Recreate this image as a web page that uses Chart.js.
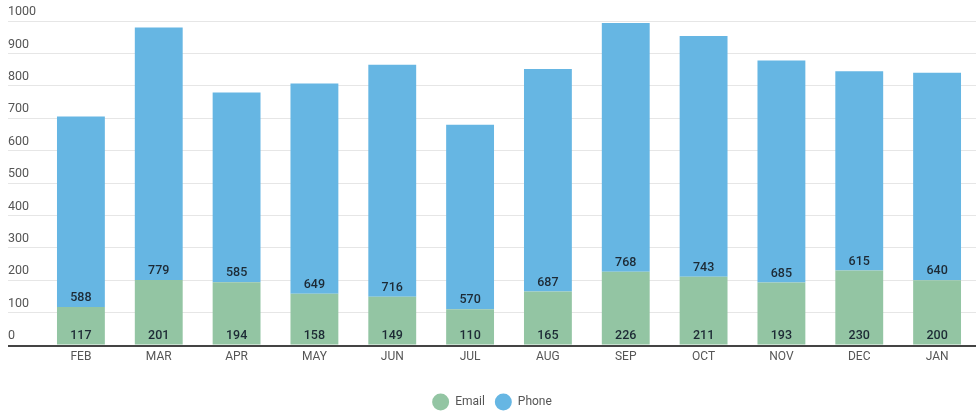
<!DOCTYPE html>
<html>
<head>
<meta charset="utf-8">
<script src="https://cdn.jsdelivr.net/npm/chart.js@4/dist/chart.umd.min.js"></script>
<style>
  html, body { margin: 0; padding: 0; background: #fff; }
  #wrap { width: 976px; height: 411px; }
</style>
</head>
<body>
<div id="wrap"><canvas id="contactChart"></canvas></div>
<script>
// --- Data ---
const months = ['FEB', 'MAR', 'APR', 'MAY', 'JUN', 'JUL', 'AUG', 'SEP', 'OCT', 'NOV', 'DEC', 'JAN'];
const emailCounts = [117, 201, 194, 158, 149, 110, 165, 226, 211, 193, 230, 200];
const phoneCounts = [588, 779, 585, 649, 716, 570, 687, 768, 743, 685, 615, 640];
const yTicks = [0, 100, 200, 300, 400, 500, 600, 700, 800, 900, 1000];

const emailColor = '#93c5a3';
const phoneColor = '#66b6e3';

// baseline over the bars + each segment's value just above its bottom edge
const segmentLabels = {
    id: 'segmentLabels',
    afterDatasetsDraw(chart) {
        const ctx = chart.ctx;
        const y = chart.scales.y;
        const zero = Math.round(y.getPixelForValue(0));
        ctx.save();
        ctx.strokeStyle = '#444';
        ctx.lineWidth = 2;
        ctx.beginPath();
        ctx.moveTo(y.left, zero + 1);
        ctx.lineTo(chart.chartArea.right, zero + 1);
        ctx.stroke();

        ctx.font = '500 12.5px Roboto';
        ctx.fillStyle = '#1d2a35';
        ctx.textAlign = 'center';
        ctx.textBaseline = 'middle';
        chart.data.datasets.forEach((ds, i) => {
            chart.getDatasetMeta(i).data.forEach((bar, j) => {
                const { x, base } = bar.getProps(['x', 'base'], true);
                ctx.fillText(String(ds.data[j]), x, base - 9);
            });
        });
        ctx.restore();
    }
};

const ctx = document.getElementById('contactChart').getContext('2d');
new Chart(ctx, {
    type: 'bar',
    data: {
        labels: months,
        datasets: [
            { label: 'Email', data: emailCounts, backgroundColor: emailColor },
            { label: 'Phone', data: phoneCounts, backgroundColor: phoneColor }
        ]
    },
    options: {
        responsive: true,
        maintainAspectRatio: false,
        animation: false,
        layout: { padding: { left: 8, top: 21, right: 0, bottom: -7 } },
        datasets: { bar: { categoryPercentage: 1, barPercentage: 0.615 } },
        scales: {
            x: {
                stacked: true,
                grid: { display: false, drawTicks: false },
                border: { display: false },
                ticks: { color: '#555', font: { family: 'Roboto', size: 12 }, padding: 5 },
                afterFit: s => { s.height = 41; }
            },
            y: {
                stacked: true,
                min: 0,
                max: 1000,
                afterBuildTicks: s => { s.ticks = yTicks.map(v => ({ value: v })); },
                grid: { color: '#e6e6e6', lineWidth: 1, tickLength: 34, drawTicks: true },
                border: { display: false },
                ticks: {
                    color: '#555',
                    font: { family: 'Roboto', size: 12.5 },
                    crossAlign: 'far',
                    labelOffset: -9,
                    padding: 0,
                    callback: v => String(v)
                },
                afterFit: s => { s.width = 34; }
            }
        },
        plugins: {
            legend: {
                position: 'bottom',
                labels: {
                    usePointStyle: true,
                    pointStyle: 'circle',
                    pointStyleWidth: 17,
                    boxHeight: 12,
                    padding: 10,
                    color: '#555',
                    font: { family: 'Roboto', size: 12 }
                }
            },
            tooltip: { enabled: false }
        }
    },
    plugins: [segmentLabels]
});
</script>
</body>
</html>
